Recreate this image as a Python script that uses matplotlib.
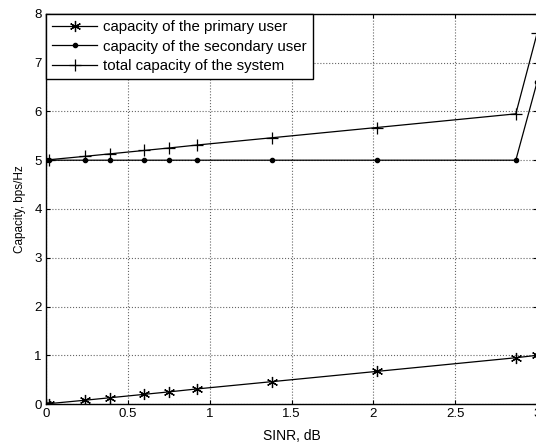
import matplotlib.pyplot as plt
import numpy as np

plt.rcParams['font.family'] = ['Liberation Sans', 'DejaVu Sans']

# SINR points (dB) and capacities
sinr = [0.0, 0.02, 0.24, 0.39, 0.60, 0.75, 0.92, 1.38, 2.02, 2.87, 3.0]
cap_primary = [0.0, 0.01, 0.08, 0.13, 0.20, 0.25, 0.31, 0.46, 0.67, 0.95, 1.0]
cap_secondary = [5.0, 5.0, 5.0, 5.0, 5.0, 5.0, 5.0, 5.0, 5.0, 5.0, 6.6]
cap_total = [5.0, 5.01, 5.08, 5.13, 5.20, 5.25, 5.31, 5.46, 5.67, 5.95, 7.6]

fig = plt.figure(figsize=(5.36, 4.47), dpi=100)
ax = fig.add_axes([0.086, 0.096, 0.916, 0.873])

ax.plot(sinr, cap_primary, 'k-', marker=(6, 2, 0), markersize=8, linewidth=0.9,
        markeredgewidth=0.9, label='capacity of the primary user')
ax.plot(sinr, cap_secondary, 'k-', marker='.', markersize=6, linewidth=0.9,
        label='capacity of the secondary user')
ax.plot(sinr, cap_total, 'k-', marker='+', markersize=8, linewidth=0.9,
        markeredgewidth=0.9, label='total capacity of the system')

ax.set_xlim(0, 3)
ax.set_ylim(0, 8)
ax.set_xticks([0, 0.5, 1, 1.5, 2, 2.5, 3])
ax.set_xticklabels(['0', '0.5', '1', '1.5', '2', '2.5', '3'])
ax.grid(True, linestyle=':', color='#666666', linewidth=0.8)
ax.tick_params(direction='in', top=True, right=True, labelsize=9.5, length=3, pad=3)
for s in ax.spines.values():
    s.set_linewidth(1.0)

ax.set_xlabel('SINR, dB', fontsize=10, labelpad=6)
ax.set_ylabel('Capacity, bps/Hz', fontsize=8.5, labelpad=6)

leg = ax.legend(loc='upper left', fontsize=10.8, borderaxespad=0, fancybox=False,
                edgecolor='black', framealpha=1, handlelength=3.0,
                handletextpad=0.4, labelspacing=0.38, borderpad=0.4)
leg.get_frame().set_linewidth(1.0)

fig.savefig('out.png', dpi=100)
